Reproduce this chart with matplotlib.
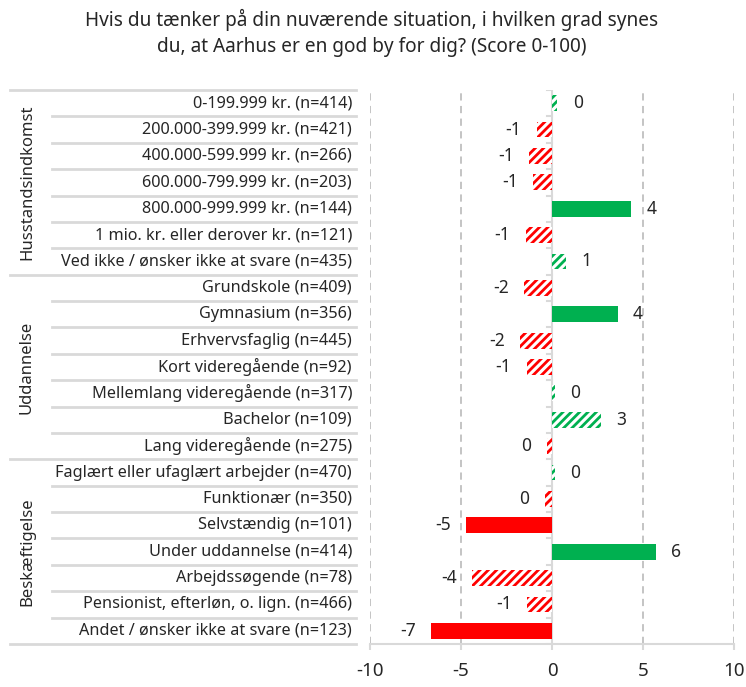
import numpy as np
import matplotlib.pyplot as plt
import matplotlib.transforms as mtransforms

plt.rcParams['font.family'] = ['Noto Sans', 'DejaVu Sans']
plt.rcParams['hatch.linewidth'] = 2.0

# data
groups = ['Husstandsindkomst', 'Uddannelse', 'Beskæftigelse']
group_sizes = [7, 7, 7]
labels = ['0-199.999 kr. (n=414)', '200.000-399.999 kr. (n=421)',
          '400.000-599.999 kr. (n=266)', '600.000-799.999 kr. (n=203)',
          '800.000-999.999 kr. (n=144)', '1 mio. kr. eller derover kr. (n=121)',
          'Ved ikke / ønsker ikke at svare (n=435)',
          'Grundskole (n=409)', 'Gymnasium (n=356)', 'Erhvervsfaglig (n=445)',
          'Kort videregående (n=92)', 'Mellemlang videregående (n=317)',
          'Bachelor (n=109)', 'Lang videregående (n=275)',
          'Faglært eller ufaglært arbejder (n=470)', 'Funktionær (n=350)',
          'Selvstændig (n=101)', 'Under uddannelse (n=414)',
          'Arbejdssøgende (n=78)', 'Pensionist, efterløn, o. lign. (n=466)',
          'Andet / ønsker ikke at svare (n=123)']
values = [0.3, -0.85, -1.25, -1.05, 4.35, -1.45, 0.75,
          -1.55, 3.6, -1.75, -1.4, 0.15, 2.7, -0.3,
          0.15, -0.4, -4.7, 5.7, -4.4, -1.35, -6.65]
significant = [False, False, False, False, True, False, False,
               False, True, False, False, False, False, False,
               False, False, True, True, False, False, True]

W, H = 746, 687
fig = plt.figure(figsize=(W / 100, H / 100), dpi=100)
ax = fig.add_axes([370 / W, (H - 644) / H, (734 - 370) / W, (644 - 90) / H])

GREEN = '#00B050'
RED = '#FF0000'
y = np.arange(len(values))
for yi, v, sig in zip(y, values, significant):
    col = GREEN if v >= 0 else RED
    if sig:
        ax.barh(yi, v, height=0.6, color=col, edgecolor='none', zorder=3)
    else:
        ax.barh(yi, v, height=0.6, color='white', edgecolor=col, hatch='////',
                linewidth=0, zorder=3)
    if v >= 0:
        ax.annotate('%d' % round(v), (v, yi), xytext=(11, 0), textcoords='offset points',
                    ha='left', va='center', fontsize=12.5, color='#262626')
    else:
        ax.annotate('%d' % round(v), (v, yi), xytext=(-11, 0), textcoords='offset points',
                    ha='right', va='center', fontsize=12.5, color='#262626')

ax.set_xlim(-10, 10)
ax.set_ylim(len(values) - 0.5, -0.5)
ax.set_xticks([-10, -5, 0, 5, 10])
ax.set_xticklabels(['-10', '-5', '0', '5', '10'], fontsize=13.5, color='#262626')
ax.tick_params(axis='x', length=4, color='#D9D9D9', width=1.5, pad=9)
ax.set_yticks([])
for s in ['top', 'right', 'left']:
    ax.spines[s].set_visible(False)
ax.spines['bottom'].set_color('#D9D9D9')
ax.spines['bottom'].set_linewidth(1.5)
for xv in [-10, -5, 5, 10]:
    ax.axvline(xv, color='#BFBFBF', linestyle=(0, (4, 3)), linewidth=1.3, zorder=1)
ax.axvline(0, color='#D9D9D9', linewidth=1.5, zorder=2)
# small ticks on zero line at row boundaries
for b in np.arange(-0.5, len(values), 1.0):
    ax.plot([-0.3, 0], [b, b], color='#D9D9D9', linewidth=1.5, zorder=2)

# category labels and separators on the left
tr = mtransforms.blended_transform_factory(fig.transFigure, ax.transData)
for yi, lab in zip(y, labels):
    fig.text(352 / W, yi, lab, transform=tr, ha='right', va='center',
             fontsize=11.7, color='#262626')
bounds = np.cumsum([0] + group_sizes)
for b in np.arange(0, len(values) + 1):
    x0 = 10 if b in bounds else 52
    ax.plot([x0 / W, 356 / W], [b - 0.5, b - 0.5], transform=tr, color='#D9D9D9',
            linewidth=2, clip_on=False)
for g, start, n in zip(groups, bounds[:-1], group_sizes):
    fig.text(27 / W, start + (n - 1) / 2, g, transform=tr, rotation=90,
             ha='center', va='center', fontsize=12, color='#262626')

fig.text(372 / W, 1 - 20 / H, 'Hvis du tænker på din nuværende situation, i hvilken grad synes',
         ha='center', va='center', fontsize=13.7, color='#262626')
fig.text(372 / W, 1 - 47 / H, 'du, at Aarhus er en god by for dig? (Score 0-100)',
         ha='center', va='center', fontsize=13.7, color='#262626')

fig.savefig('out.png', dpi=100)
